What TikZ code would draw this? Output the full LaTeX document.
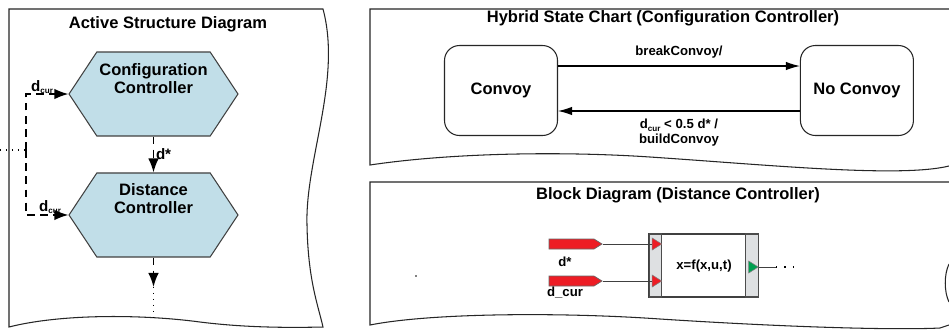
\documentclass[tikz,border=0pt]{standalone}
\usepackage{fontspec}
\setmainfont{Liberation Sans}
\usetikzlibrary{shapes.geometric, shapes.symbols, arrows.meta}
\definecolor{hexblue}{RGB}{193,222,232}
\definecolor{portred}{RGB}{237,28,36}
\definecolor{portgreen}{RGB}{0,160,80}
\definecolor{stripgray}{RGB}{222,224,226}
\newcommand{\dcur}{d\raisebox{-0.35ex}{\fontsize{4.6}{5}\selectfont cur}}
\tikzstyle{frame} = [draw=black!85, line width=0.6pt]
\tikzstyle{head} = [font=\fontsize{9.4}{11}\selectfont\bfseries]
\tikzstyle{hexa} = [signal, signal to=east and west, signal pointer angle=113, draw=black!75, line width=0.6pt, fill=hexblue, minimum width=3.38cm, minimum height=1.68cm, inner sep=0pt]
\tikzstyle{hexatext} = [align=center, font=\fontsize{9.4}{10.2}\selectfont\bfseries]
\tikzstyle{flowlbl} = [font=\fontsize{8.6}{9}\selectfont\bfseries, inner sep=1pt]
\tikzstyle{flow} = [line width=0.85pt, dash pattern=on 4.5pt off 3pt, -{Latex[length=8pt,width=6pt]}]
\tikzstyle{dots} = [line width=0.8pt, dash pattern=on 0.8pt off 2.6pt]
\tikzstyle{statebox} = [rectangle, rounded corners=8.5pt, draw=black!85, line width=0.6pt, minimum width=2.26cm, minimum height=1.8cm, font=\fontsize{9.4}{11}\selectfont\bfseries]
\tikzstyle{trans} = [line width=0.6pt, -{Latex[length=8pt,width=4.8pt]}]
\tikzstyle{small} = [font=\fontsize{7.5}{8.5}\selectfont\bfseries]
\tikzstyle{inport} = [signal, signal to=east, signal pointer angle=64, draw=black!60, line width=0.4pt, fill=portred, minimum width=1.06cm, minimum height=0.2cm, inner sep=0pt]
\tikzstyle{strip} = [rectangle, draw=black!70, line width=0.6pt, fill=stripgray, minimum width=0.25cm, minimum height=1.26cm, inner sep=0pt]
\tikzstyle{tri} = [isosceles triangle, isosceles triangle stretches, inner sep=0pt, minimum width=0.24cm, minimum height=0.19cm, draw=black!50, line width=0.3pt]
\tikzstyle{wire} = [draw=black!75, line width=0.5pt]

\begin{document}
\begin{tikzpicture}[x=0.02cm, y=-0.02cm, node distance=2.42cm]
\useasboundingbox (0,0) rectangle (949,329);
\fill [white] (0,0) rectangle (949,329);

%Active structure
\draw [frame] (9,9) -- (323,9) .. controls (342,80) and (305,160) .. (307,225) .. controls (308,280) and (318,305) .. (323,327) .. controls (280,328) and (240,327) .. (200,322) .. controls (140,314) and (60,314) .. (9,327) -- cycle;
\node (asd_title) [head] at (168,24) {Active Structure Diagram};

\node (config_hex) [hexa] at (153.5,94) {};
\node (config_text) [hexatext, yshift=0.3cm] at (config_hex.center) {Configuration\\Controller};
\node (dist_hex) [hexa, below of=config_hex] {};
\node (dist_text) [hexatext, yshift=0.33cm] at (dist_hex.center) {Distance\\Controller};

\coordinate (feed) at (0,150);
\coordinate (split) at (26,150);
\coordinate (out_tip) at (153.5,287);
\coordinate (out_end) at (153.5,318);

\draw [dots] (feed) -- (split);
\draw [flow] (split) |- (config_hex.west);
\draw [flow] (split) |- (dist_hex.west);
\draw [flow] (config_hex.south) -- node[right, flowlbl]{d*} (dist_hex.north);
\draw [flow] (dist_hex.south) -- (out_tip);
\draw [dots] (out_tip) -- (out_end);

\node (dcur_top) [flowlbl] at (42,87) {\dcur};
\node (dcur_bot) [flowlbl] at (50,207) {\dcur};

%Hybrid state chart
\draw [frame] (949,9) -- (370,9) -- (370,165) .. controls (450,153) and (560,151) .. (650,157) .. controls (770,165) and (900,178) .. (949,166);
\node (hsc_title) [head] at (663,18) {Hybrid State Chart (Configuration Controller)};

\node (convoy) [statebox] at (501,90.5) {Convoy};
\node (noconvoy) [statebox, right of=convoy, node distance=7.12cm] {No Convoy};

\draw [trans] ([yshift=0.49cm]convoy.east) -- node[above, small, yshift=1pt]{breakConvoy/} ([yshift=0.49cm]noconvoy.west);
\draw [trans] ([yshift=-0.41cm]noconvoy.west) -- node[below, small, align=center, yshift=-1pt]{\dcur{} < 0.5 d* /\\buildConvoy} ([yshift=-0.41cm]convoy.east);

%Block diagram
\draw [frame] (949,182) -- (370,182) -- (370,325) .. controls (430,313) and (560,312) .. (660,319) .. controls (800,328) and (900,330) .. (940,328) .. controls (945,327) .. (949,325);
\draw [frame] (949,264) .. controls (944,274) and (944,292) .. (949,302);
\node (bd_title) [head] at (678,195) {Block Diagram (Distance Controller)};

\node (block_main) [rectangle, draw=black!75, line width=0.6pt, minimum width=2.18cm, minimum height=1.26cm] at (703.5,265.5) {};
\node (strip_in) [strip] at (655.5,265.5) {};
\node (strip_out) [strip] at (752,265.5) {};
\node (block_eq) [small] at (704,266) {x=f(x,u,t)};

\node (port_star) [tri, fill=portred] at (655.5,244) {};
\node (port_cur) [tri, fill=portred] at (655.5,281) {};
\node (port_out) [tri, fill=portgreen] at (752,267) {};

\node (sig_star) [inport] at (571.5,244) {};
\node (sig_cur) [inport] at (571.5,281) {};
\node (lbl_star) [small] at (565,262) {d*};
\node (lbl_cur) [small] at (565,293) {d\_cur};

\coordinate (out_stub) at (776,267);
\coordinate (out_more) at (794,267);

\draw [wire] (sig_star.east) -- (port_star.west);
\draw [wire] (sig_cur.east) -- (port_cur.west);
\draw [wire] (port_out.east) -- (out_stub);
\draw [dots, line width=0.6pt, dash pattern=on 0.8pt off 4pt] (out_stub) -- (out_more);
\fill (416,276) circle (0.5pt);

\end{tikzpicture}
\end{document}
